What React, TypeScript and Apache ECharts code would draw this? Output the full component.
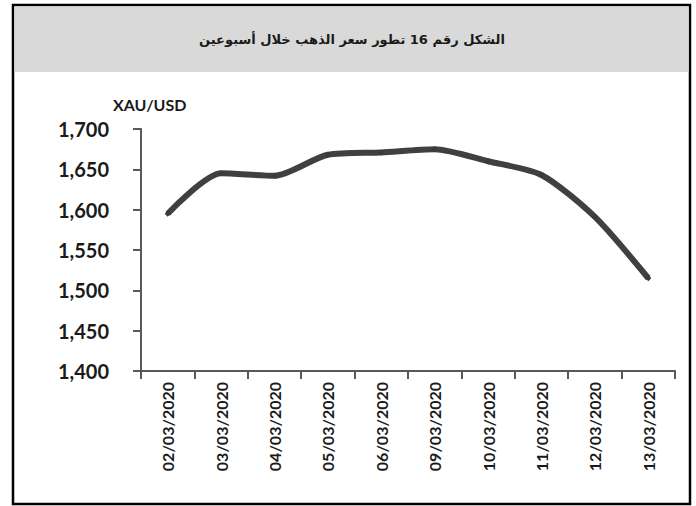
import React, { useEffect, useRef } from "react";
import * as echarts from "echarts";

const categories = [
  "02/03/2020",
  "03/03/2020",
  "04/03/2020",
  "05/03/2020",
  "06/03/2020",
  "09/03/2020",
  "10/03/2020",
  "11/03/2020",
  "12/03/2020",
  "13/03/2020",
];
const goldPrice = [1595, 1645, 1642, 1668, 1671, 1675, 1660, 1643, 1591, 1515];
const yMin = 1400;
const yMax = 1700;
const yStep = 50;
const titleText = "الشكل رقم 16 تطور سعر الذهب خلال أسبوعين";
const unitText = "XAU/USD";

export default function App() {
  const ref = useRef<HTMLDivElement>(null);
  useEffect(() => {
    if (!ref.current) return;
    const chart = echarts.init(ref.current, null, { renderer: "svg" });
    const font = "Lato, 'Open Sans', 'DejaVu Sans', sans-serif";
    chart.setOption({
      animation: false,
      backgroundColor: "#ffffff",
      textStyle: { fontFamily: font },
      graphic: [
        {
          type: "rect",
          shape: { x: 13, y: 5, width: 677, height: 499 },
          style: { fill: "#ffffff", stroke: "#000000", lineWidth: 2.5 },
          z: -10,
        },
        {
          type: "rect",
          shape: { x: 14.5, y: 6.5, width: 674, height: 65.5 },
          style: { fill: "#d9d9d9" },
          z: -9,
        },
        {
          type: "text",
          x: 352,
          y: 39,
          style: {
            text: titleText,
            fill: "#1a1a1a",
            font: "bold 13px 'DejaVu Sans', sans-serif",
            textAlign: "center",
            textVerticalAlign: "middle",
          },
        },
        {
          type: "text",
          x: 113,
          y: 104,
          style: {
            text: unitText,
            fill: "#1a1a1a",
            font: "bold 16px " + font,
            textAlign: "left",
            textVerticalAlign: "middle",
          },
        },
      ],
      grid: { left: 141, right: 21, top: 129, bottom: 135, containLabel: false },
      xAxis: {
        type: "category",
        data: categories,
        boundaryGap: true,
        axisLine: { show: true, lineStyle: { color: "#595959", width: 2 } },
        axisTick: { show: true, length: 8, lineStyle: { color: "#595959", width: 2 } },
        axisLabel: {
          rotate: 90,
          margin: 11,
          color: "#1a1a1a",
          fontSize: 16,
          fontWeight: "bold",
          fontFamily: font,
          interval: 0,
        },
        splitLine: { show: false },
      },
      yAxis: {
        type: "value",
        min: yMin,
        max: yMax,
        interval: yStep,
        axisLine: { show: true, lineStyle: { color: "#595959", width: 2 } },
        axisTick: { show: true, length: 8, lineStyle: { color: "#595959", width: 2 } },
        axisLabel: {
          margin: 32,
          color: "#1a1a1a",
          fontSize: 20,
          fontWeight: "bold",
          fontFamily: font,
          formatter: (v: number) => v.toLocaleString("en-US"),
        },
        splitLine: { show: false },
      },
      series: [
        {
          type: "line",
          data: goldPrice,
          smooth: 0.25,
          symbol: "diamond",
          symbolSize: 6,
          itemStyle: { color: "#3a3a3a" },
          lineStyle: { color: "#404040", width: 6 },
        },
      ],
    });
    return () => chart.dispose();
  }, []);
  return <div ref={ref} style={{ width: 696, height: 506, position: "absolute", left: 0, top: 0 }} />;
}
